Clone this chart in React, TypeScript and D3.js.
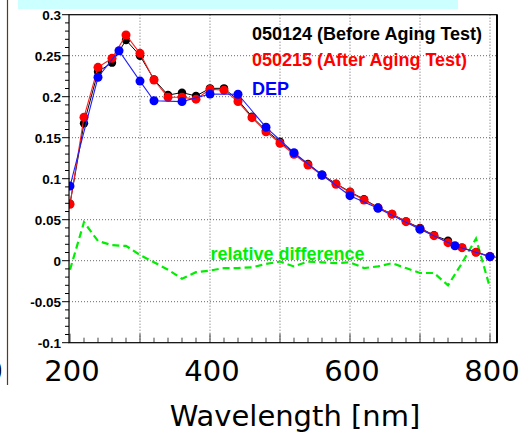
import React from "react";
import * as d3 from "d3";

const wavelengths = [200, 220, 240, 260, 280, 300, 320, 340, 360, 380, 400, 420, 440, 460, 480, 500, 520, 540, 560, 580, 600, 620, 640, 660, 680, 700, 720, 740, 760, 780, 800];
const before050124 = [0.0695, 0.1675, 0.2305, 0.2415, 0.269, 0.25, 0.221, 0.202, 0.205, 0.2009, 0.2102, 0.2102, 0.196, 0.1756, 0.159, 0.1451, 0.131, 0.118, 0.105, 0.094, 0.084, 0.075, 0.065, 0.057, 0.048, 0.04, 0.031, 0.0244, 0.016, 0.0104, 0.0055];
const after050215 = [0.0688, 0.175, 0.2358, 0.2468, 0.2752, 0.2529, 0.2204, 0.1993, 0.1993, 0.197, 0.209, 0.208, 0.194, 0.1744, 0.1573, 0.1432, 0.1298, 0.1167, 0.104, 0.0932, 0.0834, 0.074, 0.0645, 0.0566, 0.0476, 0.039, 0.0305, 0.022, 0.0159, 0.0102, 0.005];
const depWavelengths = [200, 240, 270, 300, 320, 360, 400, 440, 480, 520, 560, 600, 640, 700, 750, 800, 830];
const depValues = [0.091, 0.2237, 0.256, 0.219, 0.195, 0.194, 0.2033, 0.203, 0.1627, 0.1317, 0.1045, 0.0793, 0.0639, 0.0383, 0.0183, 0.0049, 0.003];
const relDiff = [-0.011, 0.047, 0.024, 0.019, 0.018, 0.007, -0.002, -0.011, -0.022, -0.014, -0.012, -0.009, -0.009, -0.008, -0.004, -0.001, -0.007, -0.001, -0.002, -0.003, -0.002, -0.009, -0.007, -0.003, -0.009, -0.015, -0.015, -0.03, -0.003, 0.027, -0.033];

const yTicks = [0.3, 0.25, 0.2, 0.15, 0.1, 0.05, 0, -0.05, -0.1];
const yTickLabels = ["0.3", "0.25", "0.2", "0.15", "0.1", "0.05", "0", "-0.05", "-0.1"];
const xGridTicks = [300, 400, 500, 600, 700, 800];
const xBigLabels = [200, 400, 600, 800];
const legendLabels = ["050124 (Before Aging Test)", "050215 (After Aging Test)", "DEP"];

export default function App() {
  const x = d3.scaleLinear().domain([200, 800]).range([70, 490]);
  const y = d3.scaleLinear().domain([-0.1, 0.3]).range([342.7, 14.7]);
  const fx0 = x(198.6), fx1 = x(810);
  const fy0 = y(0.3), fy1 = y(-0.1);

  const line = d3.line<[number, number]>().x((d) => x(d[0])).y((d) => y(d[1]));
  const blackPts: [number, number][] = wavelengths.map((w, i) => [w, before050124[i]]);
  const redPts: [number, number][] = wavelengths.map((w, i) => [w, after050215[i]]);
  const bluePts: [number, number][] = depWavelengths.map((w, i) => [w, depValues[i]]);
  const greenPts: [number, number][] = wavelengths.map((w, i) => [w, relDiff[i]]);

  const yMinor = d3.range(-0.1, 0.3001, 0.01);
  const xMinor = d3.range(200, 810, 20);
  const bold = "'Liberation Sans', Arial, Helvetica, sans-serif";
  const comic = "'Comic Sans MS', 'DejaVu Sans', sans-serif";

  return (
    <svg width={531} height={436} style={{ position: "absolute", left: 0, top: 0, background: "#fff" }}>
      <defs>
        <clipPath id="frame">
          <rect x={fx0} y={fy0} width={fx1 - fx0} height={fy1 - fy0} />
        </clipPath>
      </defs>
      <rect x={0} y={0} width={531} height={436} fill="#fff" />
      {xGridTicks.map((t) => (
        <line key={"gx" + t} x1={x(t)} x2={x(t)} y1={fy0} y2={fy1} stroke="#666" strokeWidth={1} strokeDasharray="1,2" />
      ))}
      {yTicks.slice(1, -1).map((t) => (
        <line key={"gy" + t} x1={fx0} x2={fx1} y1={y(t)} y2={y(t)} stroke="#666" strokeWidth={1} strokeDasharray="1,2" />
      ))}
      {yMinor.map((t, i) => {
        const major = i % 5 === 0;
        return <line key={"ym" + i} x1={fx0 - (major ? 7 : 4)} x2={fx0} y1={y(t)} y2={y(t)} stroke="#000" strokeWidth={1} />;
      })}
      {xMinor.map((t, i) => {
        const major = i % 5 === 0;
        return <line key={"xm" + i} x1={x(t)} x2={x(t)} y1={fy1} y2={fy1 - (major ? 9 : 5)} stroke="#444" strokeWidth={1} />;
      })}
      {yTicks.map((t, i) => (
        <text key={"yl" + t} x={61} y={y(t)} dy="0.36em" textAnchor="end" fontFamily={bold} fontWeight="bold" fontSize={13.5} fill="#000">
          {yTickLabels[i]}
        </text>
      ))}
      <g clipPath="url(#frame)">
        <path d={line(greenPts) || ""} fill="none" stroke="#00ee00" strokeWidth={2.2} strokeDasharray="7,4" />
        <path d={line(blackPts) || ""} fill="none" stroke="#000" strokeWidth={1} />
        {blackPts.map((p, i) => <circle key={"b" + i} cx={x(p[0])} cy={y(p[1])} r={4.2} fill="#000" />)}
        <path d={line(redPts) || ""} fill="none" stroke="#ff2020" strokeWidth={1.1} />
        {redPts.map((p, i) => <circle key={"r" + i} cx={x(p[0])} cy={y(p[1])} r={4.5} fill="#ff0000" />)}
        <path d={line(bluePts) || ""} fill="none" stroke="#2020ff" strokeWidth={1.1} />
        {bluePts.map((p, i) => <circle key={"u" + i} cx={x(p[0])} cy={y(p[1])} r={4.5} fill="#0000ff" />)}
      </g>
      <rect x={fx0} y={fy0} width={fx1 - fx0} height={fy1 - fy0} fill="none" stroke="#000" strokeWidth={1.2} />
      <line x1={fx1} x2={fx1} y1={fy0} y2={fy1} stroke="#000" strokeWidth={2} />
      <text x={252} y={39.5} fontFamily={bold} fontWeight="bold" fontSize={18} fill="#000">{legendLabels[0]}</text>
      <text x={252} y={66} fontFamily={bold} fontWeight="bold" fontSize={18} fill="#ff0000">{legendLabels[1]}</text>
      <text x={252} y={95} fontFamily={bold} fontWeight="bold" fontSize={18} fill="#0000ff">{legendLabels[2]}</text>
      <text x={210.5} y={260} fontFamily={bold} fontWeight="bold" fontSize={18} fill="#00ee00">relative difference</text>
      <rect x={18} y={0} width={440} height={9} fill="#ccffff" />
      <line x1={7.5} x2={7.5} y1={0} y2={385} stroke="#5a3a1a" strokeWidth={1.2} />
      <text x={3} y={381} textAnchor="end" fontFamily={comic} fontSize={29} fill="#000">0</text>
      {xBigLabels.map((t) => (
        <text key={"xl" + t} x={x(t) + 2} y={381} textAnchor="middle" fontFamily={comic} fontSize={29} fill="#000">{t}</text>
      ))}
      <text x={295} y={426} textAnchor="middle" fontFamily={comic} fontSize={29} fill="#000">Wavelength [nm]</text>
    </svg>
  );
}
